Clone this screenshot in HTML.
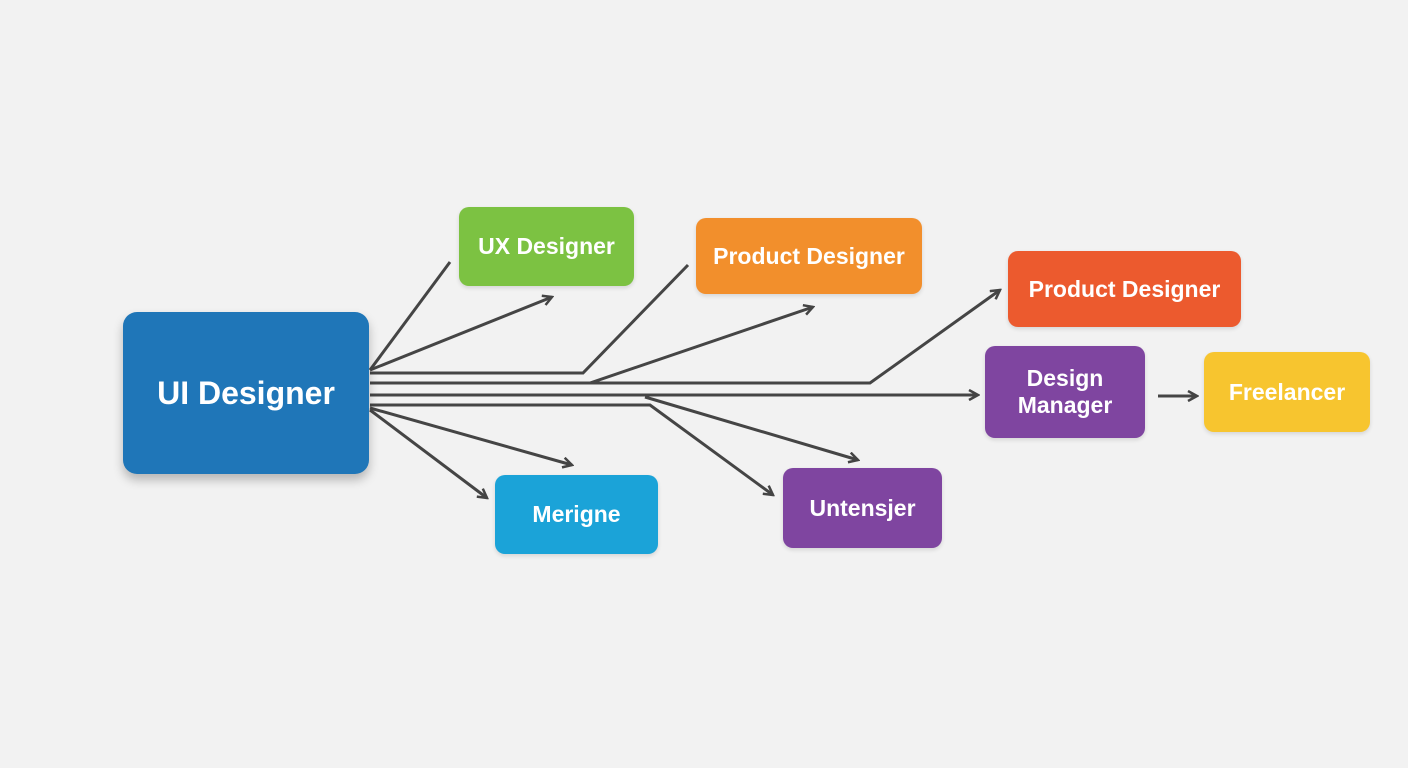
<!DOCTYPE html>
<html><head><style>
body{margin:0;width:1408px;height:768px;background:#f2f2f2;position:relative;overflow:hidden;font-family:"Liberation Sans",sans-serif}
.b{position:absolute;display:flex;align-items:center;justify-content:center;text-align:center;color:#fff;font-weight:bold;border-radius:10px;font-size:23px;line-height:27px;box-shadow:0 2px 4px rgba(0,0,0,.12)}
svg{position:absolute;left:0;top:0}
</style></head><body>
<svg width="1408" height="768"><defs><marker id="a" markerWidth="12" markerHeight="12" refX="10" refY="6" orient="auto" markerUnits="userSpaceOnUse"><path d="M1,1 L10,6 L1,11" fill="none" stroke="#444" stroke-width="2.5"/></marker></defs>
<g stroke="#454545" stroke-width="3" fill="none">
<path d="M370,370 L450,262"/>
<path d="M370,370 L552,297" marker-end="url(#a)"/>
<path d="M370,373 L583,373 L688,265"/>
<path d="M590,383 L813,307" marker-end="url(#a)"/>
<path d="M370,383 L870,383 L1000,290" marker-end="url(#a)"/>
<path d="M370,395 L978,395" marker-end="url(#a)"/>
<path d="M370,405 L650,405 L773,495" marker-end="url(#a)"/>
<path d="M645,397 L858,460" marker-end="url(#a)"/>
<path d="M370,408 L572,465" marker-end="url(#a)"/>
<path d="M370,410 L487,498" marker-end="url(#a)"/>
<path d="M1158,396 L1197,396" marker-end="url(#a)"/>
</g></svg>
<div class="b" style="left:123px;top:312px;width:246px;height:162px;background:#1f76b8;font-size:32px;border-radius:14px;box-shadow:0 6px 10px rgba(0,0,0,.25)">UI Designer</div>
<div class="b" style="left:459px;top:207px;width:175px;height:79px;background:#7cc242">UX Designer</div>
<div class="b" style="left:696px;top:218px;width:226px;height:76px;background:#f28f2c">Product Designer</div>
<div class="b" style="left:1008px;top:251px;width:233px;height:76px;background:#ec5a2e">Product Designer</div>
<div class="b" style="left:985px;top:346px;width:160px;height:92px;background:#7f45a0">Design<br>Manager</div>
<div class="b" style="left:1204px;top:352px;width:166px;height:80px;background:#f7c52f">Freelancer</div>
<div class="b" style="left:495px;top:475px;width:163px;height:79px;background:#1ba3d8">Merigne</div>
<div class="b" style="left:783px;top:468px;width:159px;height:80px;background:#7f45a0">Untensjer</div>
</body></html>
